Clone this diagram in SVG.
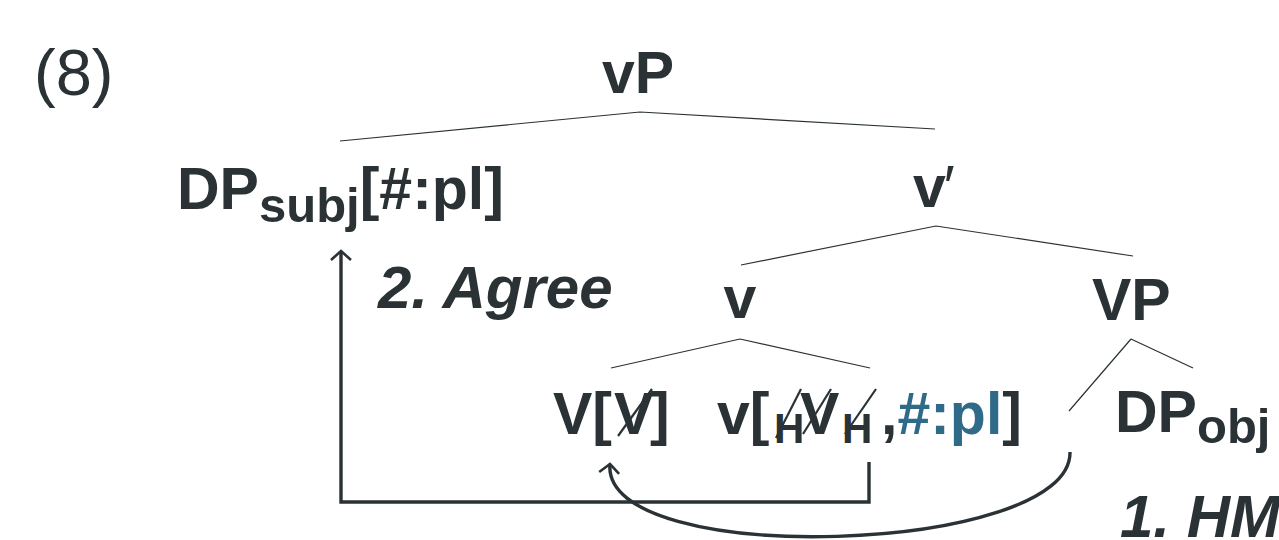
<svg xmlns="http://www.w3.org/2000/svg" width="1279" height="540" viewBox="0 0 1279 540">
  <style>
    text { font-family: "Liberation Sans", Arial, sans-serif; fill: #2a3235; }
    .lbl { font-size: 59px; font-weight: bold; }
    .sub { font-size: 49px; font-weight: bold; }
    .hsub { font-size: 42px; font-weight: bold; }
    .op { font-size: 60px; font-weight: bold; font-style: italic; }
    .num { font-size: 65px; }
    .feat { fill: #2f6a88; }
    .branch { stroke: #2a3235; stroke-width: 1.2; fill: none; }
    .cancel { stroke: #2a3235; stroke-width: 2.2; fill: none; }
    .move { stroke: #2a3235; stroke-width: 3.4; fill: none; }
  </style>
  <defs>
    <marker id="head" markerUnits="userSpaceOnUse" markerWidth="30" markerHeight="30" viewBox="-15 -15 30 30" refX="0" refY="0" orient="auto" overflow="visible">
      <path d="M-9,-10 L0,0 L-9,10" fill="none" stroke="#2a3235" stroke-width="2.6" stroke-linejoin="miter"/>
    </marker>
  </defs>

  <text id="example-number" class="num" x="34" y="95">(8)</text>

  <!-- tree branches -->
  <g id="branches">
    <path class="branch" d="M640,112 L340,141 M640,112 L935,129"/>
    <path class="branch" d="M936,226 L741,265 M936,226 L1133,256"/>
    <path class="branch" d="M740,339 L611,368 M740,339 L870,368"/>
    <path class="branch" d="M1131,339 L1069,411 M1131,339 L1193,368"/>
  </g>

  <g id="node-vP">
    <text class="lbl" x="638" y="93" text-anchor="middle">vP</text>
  </g>

  <g id="node-DPsubj">
    <text class="lbl" x="177" y="209">DP<tspan class="sub" y="222">subj</tspan><tspan y="209">[#:pl]</tspan></text>
  </g>

  <g id="node-vbar">
    <text class="lbl" x="913" y="207">v<tspan font-weight="normal" dx="-2">′</tspan></text>
  </g>

  <g id="node-v">
    <text class="lbl" x="740" y="318" text-anchor="middle">v</text>
  </g>

  <g id="node-VP">
    <text class="lbl" x="1092" y="320">VP</text>
  </g>

  <g id="node-V">
    <text class="lbl" x="553" y="434">V[</text>
    <text class="lbl" x="614" y="434">V</text>
    <text class="lbl" x="650" y="434">]</text>
    <path class="cancel" d="M618,436 L652,389"/>
  </g>

  <g id="node-v-head">
    <text class="lbl" x="717" y="434">v[</text>
    <text class="hsub" x="774" y="443">H</text>
    <text class="lbl" x="800" y="434">V</text>
    <text class="hsub" x="842" y="443">H</text>
    <text class="lbl" x="881" y="434">,<tspan class="feat">#:pl</tspan>]</text>
    <path class="cancel" d="M776,438 L801,389"/>
    <path class="cancel" d="M803,434 L831,389"/>
    <path class="cancel" d="M845,434 L876,389"/>
  </g>

  <g id="node-DPobj">
    <text class="lbl" x="1115" y="432">DP<tspan class="sub" y="443">obj</tspan></text>
  </g>

  <g id="label-agree">
    <text class="op" x="378" y="308">2. Agree</text>
  </g>

  <g id="label-hm">
    <text class="op" x="1120" y="537">1. HM</text>
  </g>

  <!-- movement / agreement arrows -->
  <g id="connectors">
    <path class="move" d="M869,462 V502 H341 V251" marker-end="url(#head)"/>
    <path class="move" d="M1070,452 C1072,555 600,570 610,464" marker-end="url(#head)"/>
  </g>
</svg>
